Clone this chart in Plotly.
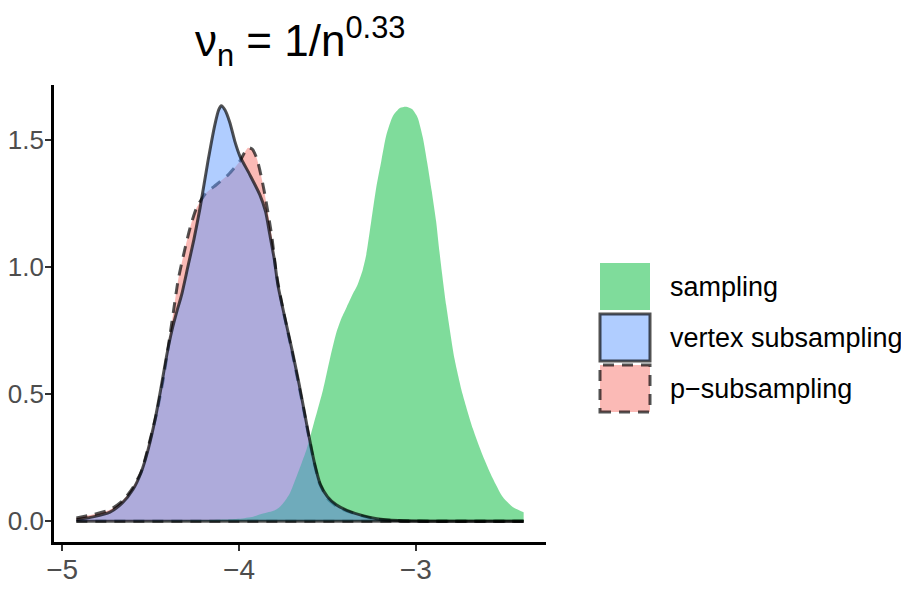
import plotly.graph_objs as go

# density estimates (x value, density)
psub_x = [-4.92, -4.82, -4.73, -4.654, -4.598, -4.55, -4.513, -4.466, -4.429, -4.40,
          -4.372, -4.344, -4.31, -4.275, -4.24, -4.19, -4.127, -4.06, -3.995, -3.97,
          -3.949, -3.925, -3.90, -3.875, -3.854, -3.816, -3.788, -3.75, -3.71, -3.67,
          -3.64, -3.61, -3.58, -3.545, -3.50, -3.45, -3.39, -3.30, -3.22, -3.10,
          -2.90, -2.39]
psub_y = [0.013, 0.027, 0.045, 0.083, 0.135, 0.20, 0.293, 0.425, 0.557, 0.688,
          0.82, 0.951, 1.06, 1.16, 1.234, 1.29, 1.326, 1.365, 1.418, 1.45,
          1.471, 1.465, 1.43, 1.36, 1.287, 1.129, 0.971, 0.83, 0.70, 0.565,
          0.46, 0.35, 0.245, 0.15, 0.09, 0.06, 0.04, 0.02, 0.008, 0.002,
          0.0, 0.0]

sampling_x = [-4.92, -4.50, -4.20, -4.00, -3.92, -3.864, -3.80, -3.77, -3.74, -3.713,
              -3.675, -3.645, -3.619, -3.582, -3.525, -3.487, -3.45, -3.42, -3.39, -3.36,
              -3.33, -3.30, -3.28, -3.252, -3.224, -3.195, -3.167, -3.13, -3.09, -3.055,
              -3.02, -2.99, -2.96, -2.935, -2.91, -2.885, -2.866, -2.828, -2.781, -2.735,
              -2.678, -2.622, -2.565, -2.509, -2.452, -2.39]
sampling_y = [0.0, 0.001, 0.004, 0.01, 0.018, 0.03, 0.042, 0.056, 0.08, 0.109,
              0.175, 0.23, 0.28, 0.372, 0.517, 0.636, 0.741, 0.80, 0.845, 0.89,
              0.93, 0.99, 1.05, 1.182, 1.313, 1.419, 1.52, 1.595, 1.627, 1.632,
              1.622, 1.59, 1.51, 1.41, 1.30, 1.18, 1.06, 0.85, 0.64, 0.50,
              0.366, 0.26, 0.169, 0.096, 0.056, 0.035]

vertex_x = [-4.92, -4.82, -4.73, -4.66, -4.60, -4.555, -4.515, -4.475, -4.44, -4.41,
            -4.38, -4.35, -4.325, -4.29, -4.255, -4.22, -4.175, -4.137, -4.115, -4.10,
            -4.08, -4.052, -4.024, -3.995, -3.94, -3.883, -3.85, -3.826, -3.80, -3.78,
            -3.74, -3.70, -3.66, -3.63, -3.60, -3.57, -3.54, -3.50, -3.45, -3.39,
            -3.30, -3.22, -3.10, -2.90, -2.39]
vertex_y = [0.006, 0.018, 0.036, 0.072, 0.125, 0.19, 0.28, 0.40, 0.53, 0.65,
            0.75, 0.83, 0.89, 1.00, 1.11, 1.235, 1.42, 1.56, 1.62, 1.636,
            1.62, 1.57, 1.497, 1.438, 1.366, 1.287, 1.22, 1.13, 1.03, 0.93,
            0.80, 0.675, 0.54, 0.43, 0.32, 0.22, 0.145, 0.097, 0.065, 0.043,
            0.022, 0.01, 0.003, 0.0, 0.0]

x_ticks = [-5, -4, -3]
y_ticks = [0, 0.5, 1, 1.5]
legend_labels = ["sampling", "vertex subsampling", "p\u2212subsampling"]

FONT = "Liberation Sans, Arial, Helvetica, sans-serif"
# the page body keeps its default 8px margin, so the figure is made 8px smaller
# and every pixel position below is in window coordinates minus that offset
PAGE_OFF = 8
W, H = 909 - PAGE_OFF, 598 - PAGE_OFF
ML, MR, MT, MB = 54 - PAGE_OFF, 363, 85 - PAGE_OFF, 56
LINE = "rgba(0,0,0,0.68)"
LW = 3
DASH = "11px,8px"

red_fill = "rgba(248,118,109,0.5)"
green_fill = "rgba(0,186,56,0.5)"
blue_fill = "rgba(97,156,255,0.5)"


def area(xs, ys, fill, dash=None):
    """Filled density; outlined ones also get the line along the baseline."""
    if dash is None:
        line = dict(width=0, shape="spline", smoothing=0.6)
    else:
        line = dict(color=LINE, width=LW, dash=dash, shape="spline", smoothing=0.6)
    traces = [go.Scatter(x=xs, y=ys, mode="lines", fill="tozeroy", fillcolor=fill,
                         line=line, hoverinfo="skip", showlegend=False)]
    if dash is not None:
        traces.append(go.Scatter(x=[xs[0], xs[-1]], y=[0, 0], mode="lines",
                                 line=dict(color=LINE, width=LW, dash=dash),
                                 hoverinfo="skip", showlegend=False))
    return traces


# drawn in factor order: p-subsampling, sampling, vertex subsampling
traces = []
traces += area(psub_x, psub_y, red_fill, dash=DASH)
traces += area(sampling_x, sampling_y, green_fill)
traces += area(vertex_x, vertex_y, blue_fill, dash="solid")

fig = go.Figure(data=traces)

all_x = psub_x + sampling_x + vertex_x
all_y = psub_y + sampling_y + vertex_y
xpad = (max(all_x) - min(all_x)) * 0.05
ypad = (max(all_y) - min(all_y)) * 0.05

axis_common = dict(showgrid=False, zeroline=False, showline=True, linecolor="black",
                   linewidth=2.6, ticks="outside", ticklen=6, tickwidth=2.2,
                   tickcolor="#333333", automargin=False)
fig.update_xaxes(range=[min(all_x) - xpad, max(all_x) + xpad], tickvals=x_ticks,
                 ticklabelstandoff=-5,
                 tickfont=dict(family=FONT, size=28, color="#4D4D4D"), **axis_common)
# y labels sit right against the window's left edge, as in the reference
fig.update_yaxes(range=[min(all_y) - ypad, max(all_y) + ypad], tickvals=y_ticks,
                 tickformat=".1f", ticklabelstandoff=-4,
                 tickfont=dict(family=FONT, size=26, color="#4D4D4D"), **axis_common)


def px_to_paper(px, py):
    """Window pixel position -> paper coordinates of the plot area."""
    return ((px - PAGE_OFF - ML) / (W - ML - MR),
            (H - MB - (py - PAGE_OFF)) / (H - MT - MB))


# hand-built legend, keys as big squares like the ggplot guide
key_fills = [green_fill, blue_fill, red_fill]
key_dash = [None, "solid", DASH]
shapes = []
annotations = []
for i, label in enumerate(legend_labels):
    top = 263 + i * 51
    x0, y0 = px_to_paper(600, top + 47)
    x1, y1 = px_to_paper(650, top)
    border = dict(width=0) if key_dash[i] is None else dict(color=LINE, width=LW, dash=key_dash[i])
    shapes.append(dict(type="rect", xref="paper", yref="paper", x0=x0, y0=y0, x1=x1, y1=y1,
                       fillcolor=key_fills[i], line=border, layer="above"))
    tx, ty = px_to_paper(668, top + 24)
    annotations.append(dict(text=label, xref="paper", yref="paper", x=tx, y=ty,
                            xanchor="left", yanchor="middle", showarrow=False,
                            font=dict(family=FONT, size=27, color="black")))

annotations.append(dict(text="\u03bd<sub>n</sub> = 1/n<sup>0.33</sup>", xref="paper", yref="paper",
                        x=0.5, y=1, xanchor="center", yanchor="bottom", yshift=10,
                        showarrow=False, font=dict(family=FONT, size=44, color="black")))

fig.update_layout(width=W, height=H, margin=dict(l=ML, r=MR, t=MT, b=MB),
                  plot_bgcolor="white", paper_bgcolor="white", showlegend=False,
                  shapes=shapes, annotations=annotations)

fig.write_html("out.html")
